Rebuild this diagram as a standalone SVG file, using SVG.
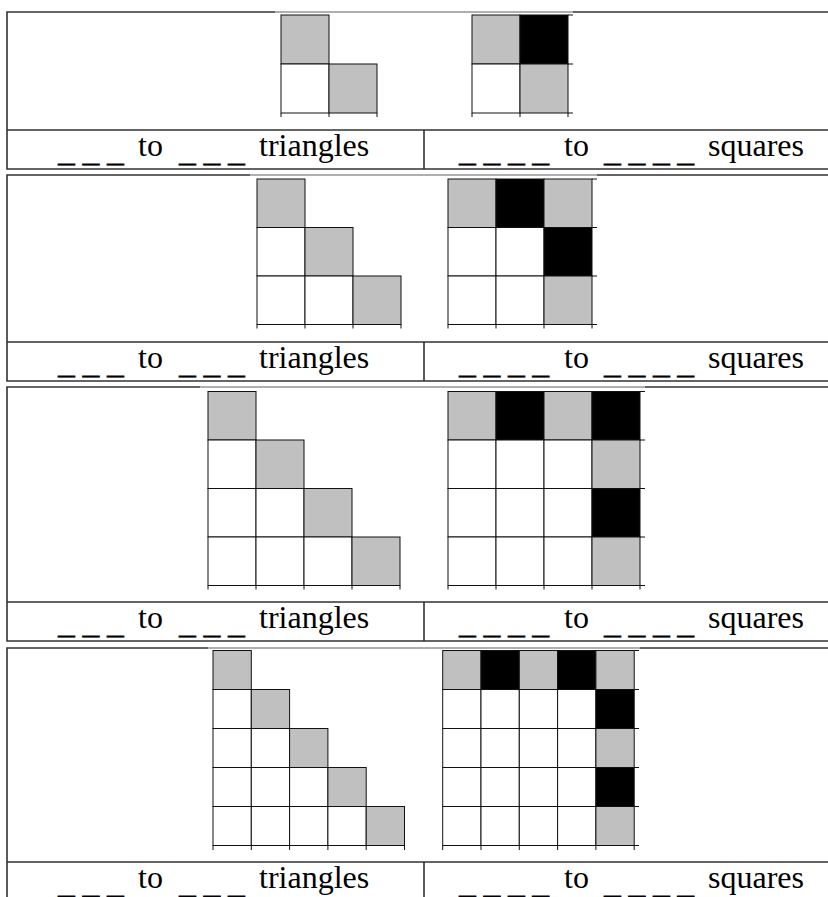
<svg xmlns="http://www.w3.org/2000/svg" width="828" height="897" viewBox="0 0 828 897">
<style>
.c{stroke:#111;stroke-width:1}
.g{fill:#c0c0c0}.k{fill:#000}.w{fill:#fff}
.t{stroke:#111;stroke-width:1;fill:none}
.b{stroke:#333;stroke-width:1.6;fill:none}
.lt{stroke:#c8c8c8;stroke-width:1.6;fill:none}
.lbl{font-family:"Liberation Serif","DejaVu Serif",serif;font-size:32px;fill:#000}
.us{font-family:"DejaVu Sans Mono","Liberation Mono",monospace;font-size:28px;letter-spacing:7.6px;stroke:#000;stroke-width:0.9}
</style>
<rect width="828" height="897" fill="#fff"/>

<!-- Panel 1 -->
<g id="panel1">
<path class="b" d="M828,12H7V169H828M7,130H828M424,130V169"/>
<path class="lt" d="M275,12H573"/>
<g id="p1-tri">
<rect class="c g" x="281" y="15" width="48" height="49"/>
<rect class="c w" x="281" y="64" width="48" height="49"/>
<rect class="c g" x="329" y="64" width="48" height="49"/>
<path class="t" d="M281,113V117M329,113V117M377,113V117"/>
</g>
<g id="p1-sq">
<rect class="c g" x="472" y="15" width="48" height="49"/>
<rect class="c k" x="520" y="15" width="48" height="49"/>
<rect class="c w" x="472" y="64" width="48" height="49"/>
<rect class="c g" x="520" y="64" width="48" height="49"/>
<path class="t" d="M568,15H573M568,64H573M568,113H573M472,113V117M520,113V117M568,113V117"/>
</g>
<text class="lbl"><tspan class="us" x="58" y="158">___</tspan><tspan x="138" y="156">to</tspan><tspan class="us" x="179" y="158">___</tspan><tspan x="259" y="156">triangles</tspan></text>
<text class="lbl"><tspan class="us" x="459" y="158">____</tspan><tspan x="564" y="156">to</tspan><tspan class="us" x="604" y="158">____</tspan><tspan x="708" y="156">squares</tspan></text>
</g>

<!-- Panel 2 -->
<g id="panel2">
<path class="b" d="M828,175H7V381H828M7,342H828M424,342V381"/>
<path class="lt" d="M250,175H597"/>
<g id="p2-tri">
<rect class="c g" x="257" y="179" width="48" height="48.5"/>
<rect class="c w" x="257" y="227.5" width="48" height="48.5"/>
<rect class="c g" x="305" y="227.5" width="48" height="48.5"/>
<rect class="c w" x="257" y="276" width="48" height="48.5"/>
<rect class="c w" x="305" y="276" width="48" height="48.5"/>
<rect class="c g" x="353" y="276" width="48" height="48.5"/>
<path class="t" d="M257,324.5V328.5M305,324.5V328.5M353,324.5V328.5M401,324.5V328.5"/>
</g>
<g id="p2-sq">
<rect class="c g" x="448" y="179" width="48" height="48.5"/>
<rect class="c k" x="496" y="179" width="48" height="48.5"/>
<rect class="c g" x="544" y="179" width="48" height="48.5"/>
<rect class="c w" x="448" y="227.5" width="48" height="48.5"/>
<rect class="c w" x="496" y="227.5" width="48" height="48.5"/>
<rect class="c k" x="544" y="227.5" width="48" height="48.5"/>
<rect class="c w" x="448" y="276" width="48" height="48.5"/>
<rect class="c w" x="496" y="276" width="48" height="48.5"/>
<rect class="c g" x="544" y="276" width="48" height="48.5"/>
<path class="t" d="M592,179H597M592,227.5H597M592,276H597M592,324.5H597M448,324.5V328.5M496,324.5V328.5M544,324.5V328.5M592,324.5V328.5"/>
</g>
<text class="lbl"><tspan class="us" x="58" y="370">___</tspan><tspan x="138" y="368">to</tspan><tspan class="us" x="179" y="370">___</tspan><tspan x="259" y="368">triangles</tspan></text>
<text class="lbl"><tspan class="us" x="459" y="370">____</tspan><tspan x="564" y="368">to</tspan><tspan class="us" x="604" y="370">____</tspan><tspan x="708" y="368">squares</tspan></text>
</g>

<!-- Panel 3 -->
<g id="panel3">
<path class="b" d="M828,387H7V641H828M7,602H828M424,602V641"/>
<path class="lt" d="M200,387H645"/>
<g id="p3-tri">
<rect class="c g" x="208" y="391.5" width="48" height="48.5"/>
<rect class="c w" x="208" y="440" width="48" height="48.5"/>
<rect class="c g" x="256" y="440" width="48" height="48.5"/>
<rect class="c w" x="208" y="488.5" width="48" height="48.5"/>
<rect class="c w" x="256" y="488.5" width="48" height="48.5"/>
<rect class="c g" x="304" y="488.5" width="48" height="48.5"/>
<rect class="c w" x="208" y="537" width="48" height="48.5"/>
<rect class="c w" x="256" y="537" width="48" height="48.5"/>
<rect class="c w" x="304" y="537" width="48" height="48.5"/>
<rect class="c g" x="352" y="537" width="48" height="48.5"/>
<path class="t" d="M208,585.5V589.5M256,585.5V589.5M304,585.5V589.5M352,585.5V589.5M400,585.5V589.5"/>
</g>
<g id="p3-sq">
<rect class="c g" x="448" y="391.5" width="48" height="48.5"/>
<rect class="c k" x="496" y="391.5" width="48" height="48.5"/>
<rect class="c g" x="544" y="391.5" width="48" height="48.5"/>
<rect class="c k" x="592" y="391.5" width="48" height="48.5"/>
<rect class="c w" x="448" y="440" width="48" height="48.5"/>
<rect class="c w" x="496" y="440" width="48" height="48.5"/>
<rect class="c w" x="544" y="440" width="48" height="48.5"/>
<rect class="c g" x="592" y="440" width="48" height="48.5"/>
<rect class="c w" x="448" y="488.5" width="48" height="48.5"/>
<rect class="c w" x="496" y="488.5" width="48" height="48.5"/>
<rect class="c w" x="544" y="488.5" width="48" height="48.5"/>
<rect class="c k" x="592" y="488.5" width="48" height="48.5"/>
<rect class="c w" x="448" y="537" width="48" height="48.5"/>
<rect class="c w" x="496" y="537" width="48" height="48.5"/>
<rect class="c w" x="544" y="537" width="48" height="48.5"/>
<rect class="c g" x="592" y="537" width="48" height="48.5"/>
<path class="t" d="M640,391.5H645M640,440H645M640,488.5H645M640,537H645M640,585.5H645M448,585.5V589.5M496,585.5V589.5M544,585.5V589.5M592,585.5V589.5M640,585.5V589.5"/>
</g>
<text class="lbl"><tspan class="us" x="58" y="630">___</tspan><tspan x="138" y="628">to</tspan><tspan class="us" x="179" y="630">___</tspan><tspan x="259" y="628">triangles</tspan></text>
<text class="lbl"><tspan class="us" x="459" y="630">____</tspan><tspan x="564" y="628">to</tspan><tspan class="us" x="604" y="630">____</tspan><tspan x="708" y="628">squares</tspan></text>
</g>

<!-- Panel 4 -->
<g id="panel4">
<path class="b" d="M828,648H7V897M7,862H828M424,862V897"/>
<path class="lt" d="M208,648H640"/>
<g id="p4-tri">
<rect class="c g" x="213" y="650.5" width="38.3" height="39"/>
<rect class="c w" x="213" y="689.5" width="38.3" height="39"/>
<rect class="c g" x="251.3" y="689.5" width="38.3" height="39"/>
<rect class="c w" x="213" y="728.5" width="38.3" height="39"/>
<rect class="c w" x="251.3" y="728.5" width="38.3" height="39"/>
<rect class="c g" x="289.6" y="728.5" width="38.3" height="39"/>
<rect class="c w" x="213" y="767.5" width="38.3" height="39"/>
<rect class="c w" x="251.3" y="767.5" width="38.3" height="39"/>
<rect class="c w" x="289.6" y="767.5" width="38.3" height="39"/>
<rect class="c g" x="327.9" y="767.5" width="38.3" height="39"/>
<rect class="c w" x="213" y="806.5" width="38.3" height="39"/>
<rect class="c w" x="251.3" y="806.5" width="38.3" height="39"/>
<rect class="c w" x="289.6" y="806.5" width="38.3" height="39"/>
<rect class="c w" x="327.9" y="806.5" width="38.3" height="39"/>
<rect class="c g" x="366.2" y="806.5" width="38.3" height="39"/>
<path class="t" d="M213,845.5V850M251.3,845.5V850M289.6,845.5V850M327.9,845.5V850M366.2,845.5V850M404.5,845.5V850"/>
</g>
<g id="p4-sq">
<rect class="c g" x="442.7" y="650.5" width="38.3" height="39"/>
<rect class="c k" x="481" y="650.5" width="38.3" height="39"/>
<rect class="c g" x="519.3" y="650.5" width="38.3" height="39"/>
<rect class="c k" x="557.6" y="650.5" width="38.3" height="39"/>
<rect class="c g" x="595.9" y="650.5" width="38.3" height="39"/>
<rect class="c w" x="442.7" y="689.5" width="38.3" height="39"/>
<rect class="c w" x="481" y="689.5" width="38.3" height="39"/>
<rect class="c w" x="519.3" y="689.5" width="38.3" height="39"/>
<rect class="c w" x="557.6" y="689.5" width="38.3" height="39"/>
<rect class="c k" x="595.9" y="689.5" width="38.3" height="39"/>
<rect class="c w" x="442.7" y="728.5" width="38.3" height="39"/>
<rect class="c w" x="481" y="728.5" width="38.3" height="39"/>
<rect class="c w" x="519.3" y="728.5" width="38.3" height="39"/>
<rect class="c w" x="557.6" y="728.5" width="38.3" height="39"/>
<rect class="c g" x="595.9" y="728.5" width="38.3" height="39"/>
<rect class="c w" x="442.7" y="767.5" width="38.3" height="39"/>
<rect class="c w" x="481" y="767.5" width="38.3" height="39"/>
<rect class="c w" x="519.3" y="767.5" width="38.3" height="39"/>
<rect class="c w" x="557.6" y="767.5" width="38.3" height="39"/>
<rect class="c k" x="595.9" y="767.5" width="38.3" height="39"/>
<rect class="c w" x="442.7" y="806.5" width="38.3" height="39"/>
<rect class="c w" x="481" y="806.5" width="38.3" height="39"/>
<rect class="c w" x="519.3" y="806.5" width="38.3" height="39"/>
<rect class="c w" x="557.6" y="806.5" width="38.3" height="39"/>
<rect class="c g" x="595.9" y="806.5" width="38.3" height="39"/>
<path class="t" d="M634.2,650.5H639M634.2,689.5H639M634.2,728.5H639M634.2,767.5H639M634.2,806.5H639M634.2,845.5H639M442.7,845.5V850M481,845.5V850M519.3,845.5V850M557.6,845.5V850M595.9,845.5V850M634.2,845.5V850"/>
</g>
<text class="lbl"><tspan class="us" x="58" y="889.5">___</tspan><tspan x="138" y="888">to</tspan><tspan class="us" x="179" y="889.5">___</tspan><tspan x="259" y="888">triangles</tspan></text>
<text class="lbl"><tspan class="us" x="459" y="889.5">____</tspan><tspan x="564" y="888">to</tspan><tspan class="us" x="604" y="889.5">____</tspan><tspan x="708" y="888">squares</tspan></text>
</g>
</svg>
